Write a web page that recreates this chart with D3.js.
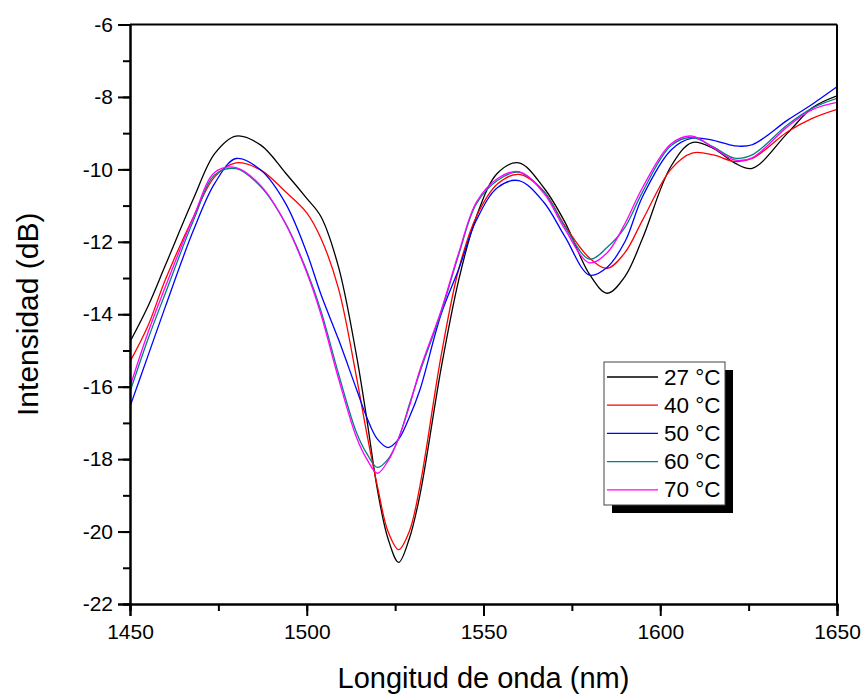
<!DOCTYPE html>
<html>
<head>
<meta charset="utf-8">
<script src="https://cdn.jsdelivr.net/npm/d3@7"></script>
<style>
  html, body { margin: 0; padding: 0; background: #fff; }
  svg text { font-family: Arial, "Liberation Sans", sans-serif; fill: #000; }
</style>
</head>
<body>
<svg id="chart" width="866" height="695"></svg>
<script>
// ---- data ----
const wavelengths = [1450,1455,1460,1468,1474,1480,1487,1494,1500,1504,1509,1514,1517,1520,1523,1526,1529,1532,1538,1543,1548,1554,1560,1567,1573,1580,1585,1590,1595,1603,1609,1615,1621,1626,1636,1643,1650];
const t27 = [-14.76,-13.8,-12.65,-10.8,-9.56,-9.08,-9.33,-10.1,-10.8,-11.3,-12.7,-15.1,-16.9,-18.85,-20.2,-20.85,-20.2,-19.0,-15.5,-13.05,-11.3,-10.1,-9.82,-10.5,-11.45,-12.9,-13.42,-12.96,-11.9,-9.92,-9.26,-9.42,-9.82,-9.97,-9.0,-8.3,-7.97];
const t40 = [-15.31,-14.34,-13.05,-11.3,-10.2,-9.82,-10.02,-10.62,-11.2,-11.9,-13.3,-15.7,-17.3,-18.75,-20.0,-20.5,-20.0,-18.75,-15.15,-12.75,-11.3,-10.4,-10.14,-10.6,-11.55,-12.45,-12.73,-12.3,-11.4,-10.0,-9.55,-9.6,-9.78,-9.7,-8.96,-8.59,-8.34];
const t50 = [-16.55,-15.17,-13.79,-11.67,-10.38,-9.70,-10.02,-10.94,-12.3,-13.45,-14.7,-16.05,-16.85,-17.45,-17.68,-17.45,-16.85,-16.09,-14.0,-12.75,-11.4,-10.5,-10.31,-10.9,-11.85,-12.92,-12.7,-12.0,-10.75,-9.47,-9.14,-9.2,-9.35,-9.32,-8.64,-8.2,-7.72];
const t60 = [-16.14,-14.71,-13.42,-11.4,-10.15,-9.98,-10.48,-11.49,-12.8,-13.9,-15.65,-17.25,-17.85,-18.23,-18.0,-17.42,-16.5,-15.6,-13.95,-12.35,-10.95,-10.3,-10.08,-10.6,-11.58,-12.48,-12.15,-11.6,-10.62,-9.35,-9.12,-9.38,-9.69,-9.6,-8.77,-8.31,-8.04];
const t70 = [-16.0,-14.53,-13.24,-11.31,-10.08,-9.95,-10.45,-11.5,-12.85,-14.0,-15.78,-17.38,-18.0,-18.39,-18.05,-17.42,-16.55,-15.54,-13.9,-12.3,-10.9,-10.25,-10.06,-10.65,-11.65,-12.58,-12.3,-11.5,-10.5,-9.3,-9.08,-9.4,-9.74,-9.68,-8.82,-8.35,-8.15];
const seriesNames = ["27 °C","40 °C","50 °C","60 °C","70 °C"];
const seriesColors = ["#000000","#ff0000","#0000ff","#008080","#ff00ff"];
const xTicks = [1450,1500,1550,1600,1650];
const yTicks = [-22,-20,-18,-16,-14,-12,-10,-8,-6];
const xTitle = "Longitud de onda (nm)";
const yTitle = "Intensidad (dB)";

// ---- layout ----
const svg = d3.select("#chart");
const L = 130, T = 24.5, R = 837, B = 604;
const x = d3.scaleLinear().domain([1450,1650]).range([L,R]);
const y = d3.scaleLinear().domain([-22,-6]).range([B,T]);

const allSeries = [t27,t40,t50,t60,t70];

svg.append("clipPath").attr("id","clip").append("rect")
  .attr("x",L).attr("y",T).attr("width",R-L).attr("height",B-T);

const line = d3.line()
  .x((d,i)=>x(wavelengths[i]))
  .y(d=>y(d))
  .curve(d3.curveCatmullRom.alpha(0.5));

const g = svg.append("g").attr("clip-path","url(#clip)");
allSeries.forEach((s,i)=>{
  g.append("path").datum(s)
    .attr("d",line)
    .attr("fill","none")
    .attr("stroke",seriesColors[i])
    .attr("stroke-width",1.3);
});

// frame (top and right)
svg.append("line").attr("x1",L).attr("x2",R).attr("y1",T).attr("y2",T).attr("stroke","#000").attr("stroke-width",2);
svg.append("line").attr("x1",R).attr("x2",R).attr("y1",T).attr("y2",B).attr("stroke","#000").attr("stroke-width",2);

// axes
const xMinor = d3.range(1450,1651,25);
const yMinor = d3.range(-22,-5,1);
const xAxisMinor = d3.axisBottom(x).tickValues(xMinor).tickSize(7).tickFormat("");
const xAxis = d3.axisBottom(x).tickValues(xTicks).tickSize(12).tickPadding(8).tickFormat(d3.format("d"));
const yAxisMinor = d3.axisLeft(y).tickValues(yMinor).tickSize(7).tickFormat("");
const yAxis = d3.axisLeft(y).tickValues(yTicks).tickSize(12).tickPadding(5).tickFormat(d=>d3.format("d")(d).replace("−","-"));

function styleAxis(sel){
  sel.select(".domain").attr("stroke","#000").attr("stroke-width",2);
  sel.selectAll(".tick line").attr("stroke","#000").attr("stroke-width",2);
  sel.selectAll("text").attr("font-size",21).attr("fill","#000").style("font-family","Arial, 'Liberation Sans', sans-serif");
}
svg.append("g").attr("transform",`translate(0,${B})`).call(xAxisMinor).call(styleAxis);
svg.append("g").attr("transform",`translate(0,${B})`).call(xAxis).call(styleAxis);
svg.append("g").attr("transform",`translate(${L},0)`).call(yAxisMinor).call(styleAxis);
svg.append("g").attr("transform",`translate(${L},0)`).call(yAxis).call(styleAxis);

// titles
svg.append("text").attr("x",(L+R)/2).attr("y",688).attr("text-anchor","middle")
  .attr("font-size",29).text(xTitle);
svg.append("text").attr("transform",`translate(38,${(T+B)/2}) rotate(-90)`).attr("text-anchor","middle")
  .attr("font-size",30).text(yTitle);

// legend
const lg = svg.append("g");
lg.append("rect").attr("x",612).attr("y",370).attr("width",121).attr("height",143).attr("fill","#000");
lg.append("rect").attr("x",604).attr("y",362).attr("width",121).attr("height",143).attr("fill","#fff").attr("stroke","#444").attr("stroke-width",1);
seriesNames.forEach((n,i)=>{
  const by = 384.5 + i*28.2;
  lg.append("line").attr("x1",607).attr("x2",658).attr("y1",by-7.5).attr("y2",by-7.5)
    .attr("stroke",seriesColors[i]).attr("stroke-width",1.3);
  lg.append("text").attr("x",664).attr("y",by).attr("font-size",22.5).text(n);
});
</script>
</body>
</html>
